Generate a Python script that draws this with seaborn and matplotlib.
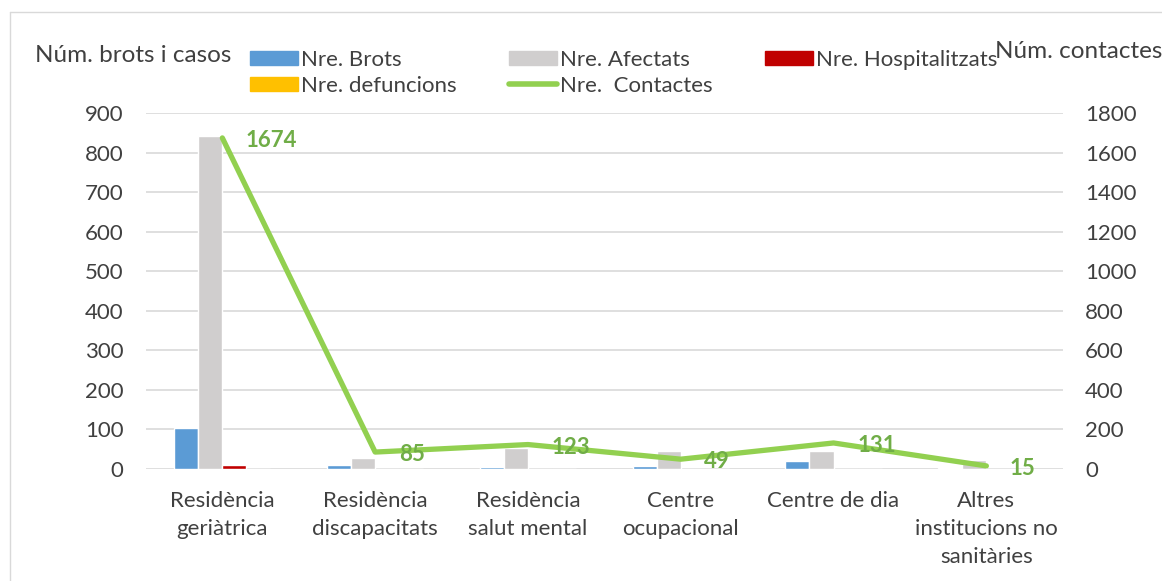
import numpy as np
import pandas as pd
import matplotlib
matplotlib.use("Agg")
import matplotlib.pyplot as plt
import seaborn as sns
from matplotlib.lines import Line2D
from matplotlib.patches import Patch

# Data
categories = ["Residència\ngeriàtrica", "Residència\ndiscapacitats", "Residència\nsalut mental",
              "Centre\nocupacional", "Centre de dia", "Altres\ninstitucions no\nsanitàries"]
brots = [104, 10, 5, 7, 20, 2]
afectats = [843, 28, 53, 45, 45, 22]
hospitalitzats = [10, 0, 0, 0, 0, 0]
defuncions = [0, 0, 0, 0, 0, 0]
contactes = [1674, 85, 123, 49, 131, 15]

series = ["Nre. Brots", "Nre. Afectats", "Nre. Hospitalitzats", "Nre. defuncions"]
colors = ["#5B9BD5", "#D0CECE", "#C00000", "#FFC000"]
line_color = "#92D050"
label_color = "#70AD47"
text_color = "#404040"

df = pd.DataFrame({
    "cat": categories * 4,
    "serie": sum([[s] * 6 for s in series], []),
    "val": brots + afectats + hospitalitzats + defuncions,
})

sns.set_style("white")
plt.rcParams["font.family"] = ["Lato", "DejaVu Sans"]
fs = 16

fig = plt.figure(figsize=(11.62, 5.81), dpi=100)
ax = fig.add_axes([0.1256, 0.193, 0.789, 0.6125])

sns.barplot(data=df, x="cat", y="val", hue="serie", hue_order=series, palette=colors,
            order=categories, width=0.63, gap=0, ax=ax, legend=False, saturation=1)
ax.set_ylim(0, 900)
ax.set_yticks(np.arange(0, 901, 100))
ax.set_xlim(-0.5, 5.5)
ax.yaxis.grid(True, color="#D9D9D9", linewidth=1.2)
ax.set_axisbelow(True)
for s in ax.spines.values():
    s.set_visible(False)
ax.tick_params(axis="both", length=0, labelsize=fs, colors=text_color)
ax.tick_params(axis="y", pad=16)
ax.tick_params(axis="x", pad=16)
ax.set_xlabel("")
ax.set_ylabel("")
for lbl in ax.get_xticklabels():
    lbl.set_linespacing(1.5)

ax2 = ax.twinx()
pos = np.arange(len(categories))
sns.lineplot(x=pos, y=contactes, ax=ax2, color=line_color, linewidth=3.8)
ax2.set_ylim(0, 1800)
ax2.set_yticks(np.arange(0, 1801, 200))
for s in ax2.spines.values():
    s.set_visible(False)
ax2.tick_params(axis="y", length=0, labelsize=fs, colors=text_color, pad=16)
for x, v in zip(pos, contactes):
    ax2.annotate(str(v), (x, v), xytext=(17, -2), textcoords="offset points",
                 ha="left", va="center", color=label_color, fontsize=fs, fontweight="bold")

fig.text(35 / 1162, 1 - 55 / 581, "Núm. brots i casos", fontsize=17.5, color=text_color, va="center")
fig.text(995 / 1162, 1 - 51 / 581, "Núm. contactes", fontsize=17.5, color=text_color, va="center")

handles = [Patch(color=colors[0]), Patch(color=colors[3]), Patch(color=colors[1]),
           Line2D([], [], color=line_color, linewidth=4), Patch(color=colors[2])]
labels = ["Nre. Brots", "Nre. defuncions", "Nre. Afectats", "Nre.  Contactes", "Nre. Hospitalitzats"]
fig.legend(handles, labels, ncol=3, loc="upper left", bbox_to_anchor=(250 / 1162, 1 - 50 / 581),
           frameon=False, fontsize=fs, handlelength=2.15, handleheight=0.6, handletextpad=0.15,
           columnspacing=2.35, labelspacing=0.25, labelcolor=text_color, borderaxespad=0,
           borderpad=0)

# chart border
fig.add_artist(Line2D([10 / 1162, 10 / 1162], [0, 1 - 12 / 581], transform=fig.transFigure,
                      color="#D9D9D9", linewidth=1))
fig.add_artist(Line2D([10 / 1162, 1], [1 - 12 / 581, 1 - 12 / 581], transform=fig.transFigure,
                      color="#D9D9D9", linewidth=1))

fig.savefig("out.png", dpi=100)
